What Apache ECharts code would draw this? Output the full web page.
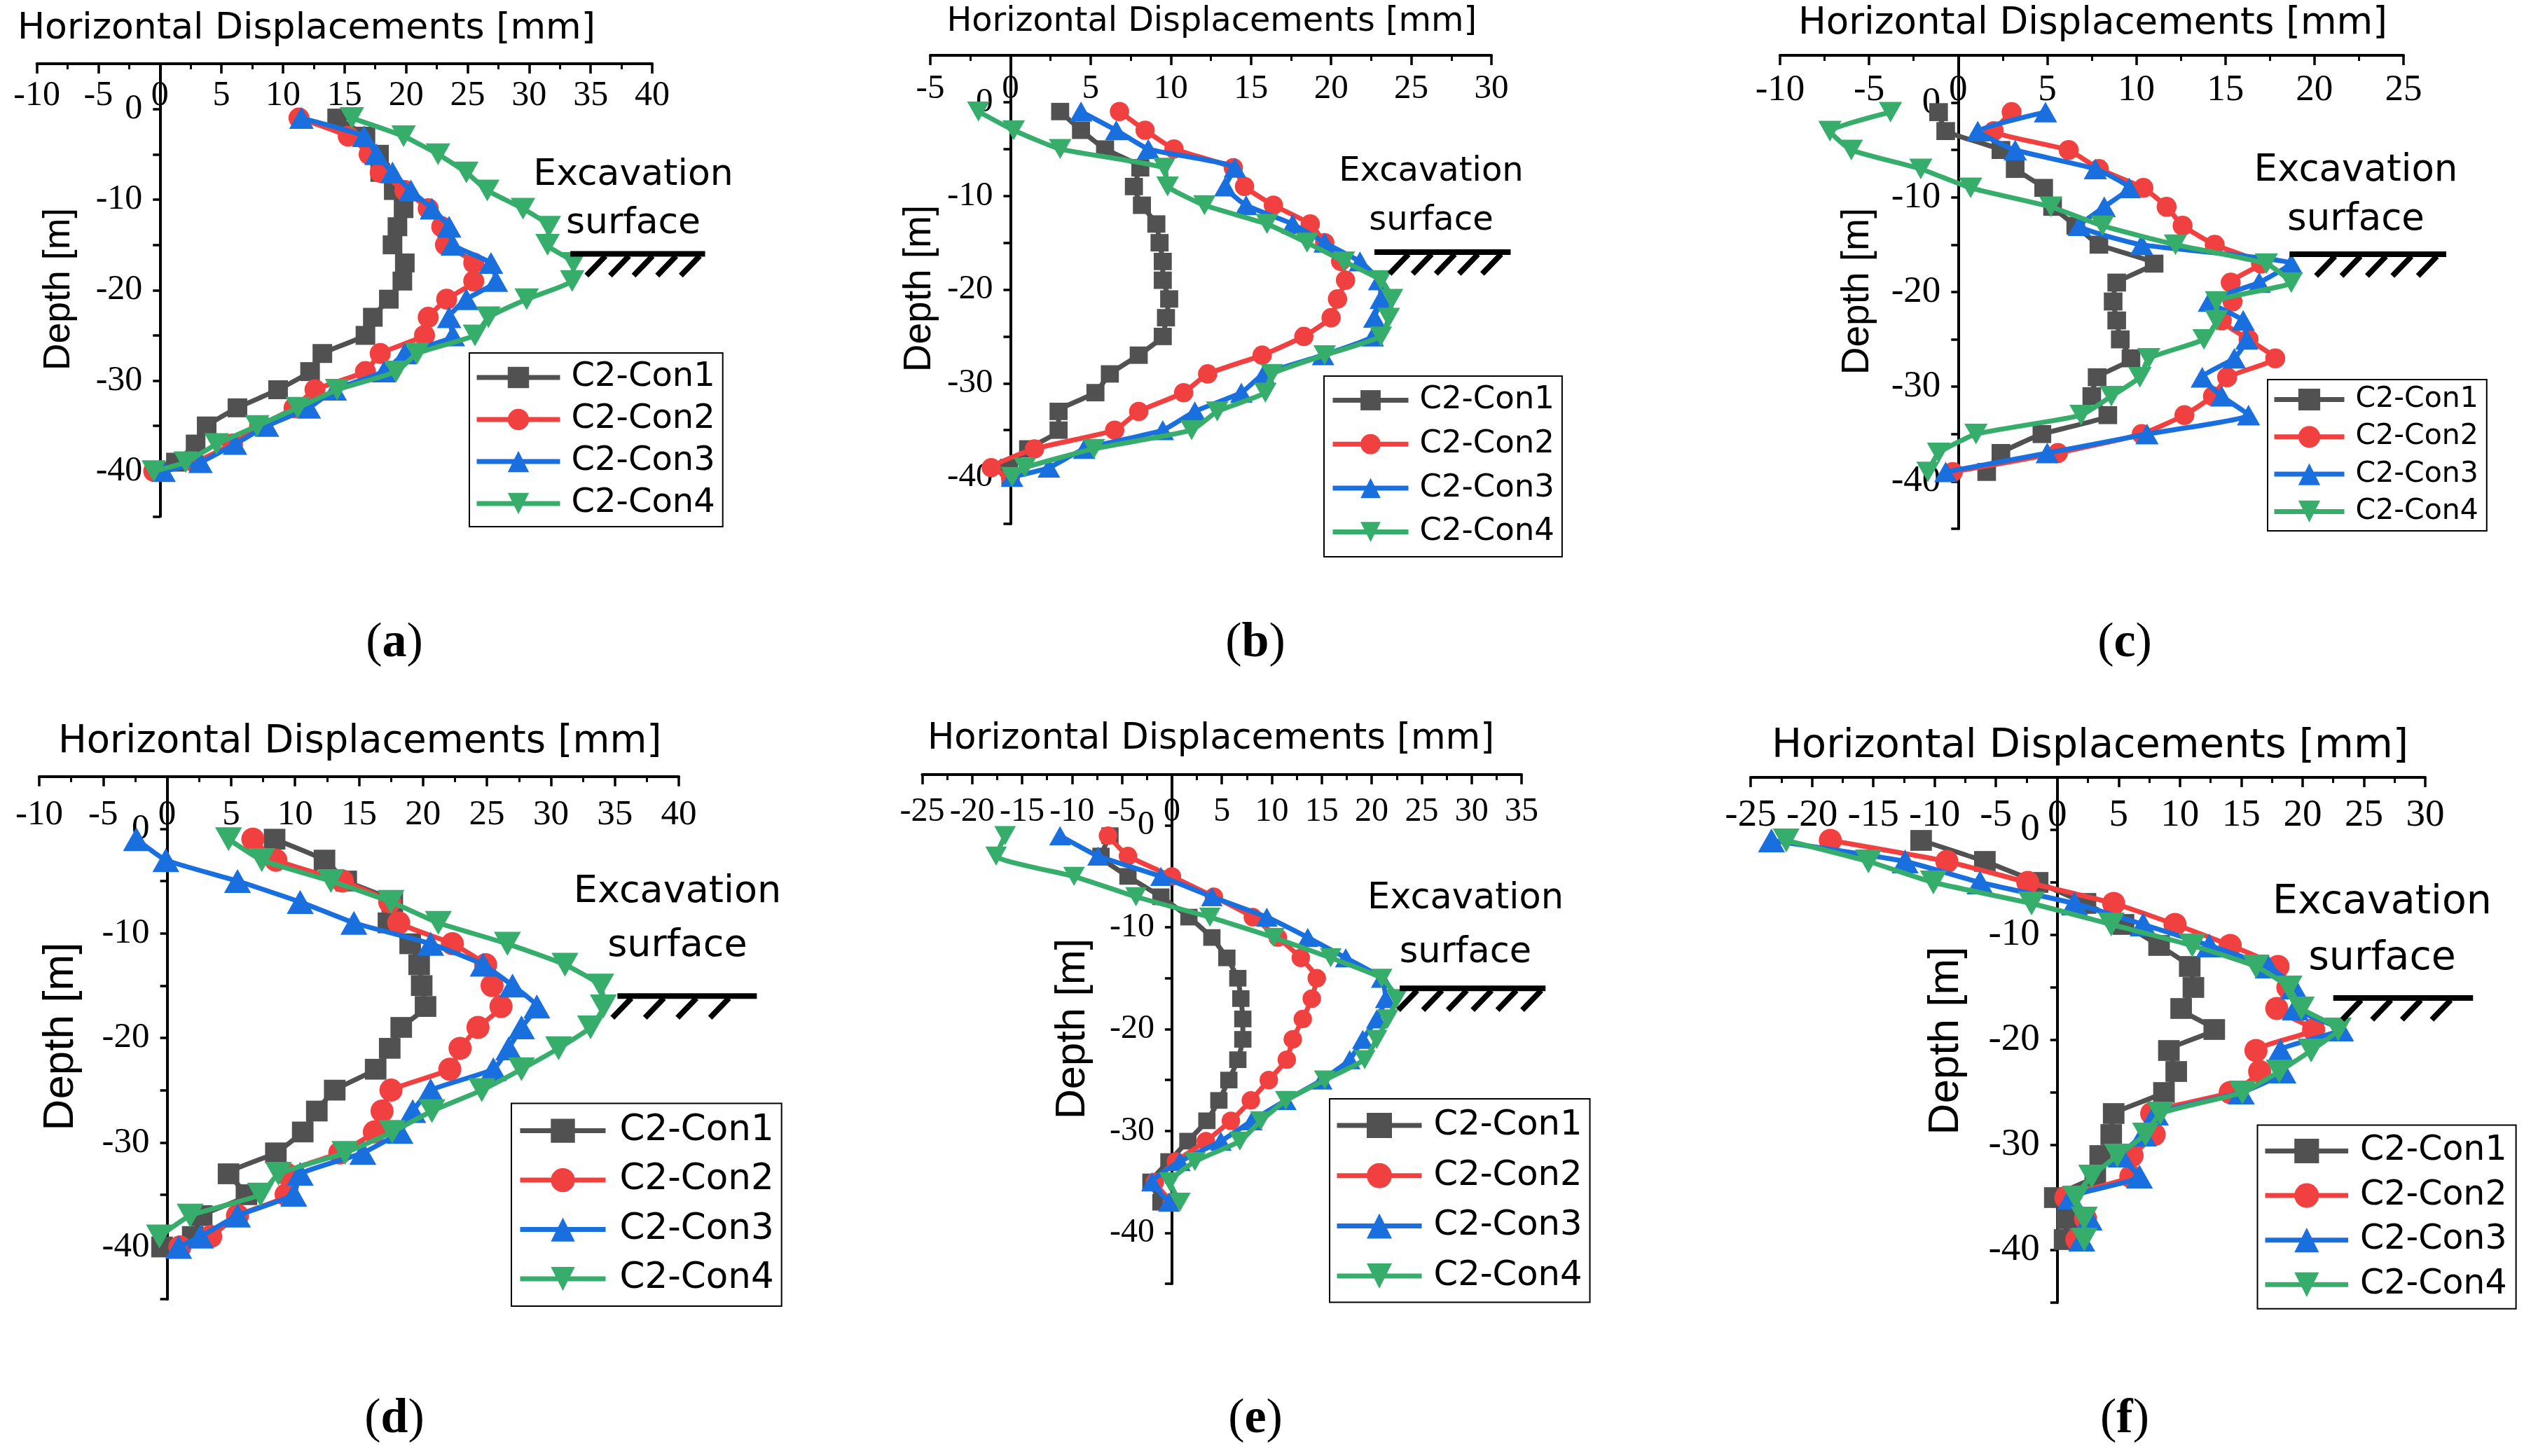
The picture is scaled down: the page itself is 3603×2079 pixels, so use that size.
<!DOCTYPE html>
<html><head><meta charset="utf-8">
<script src="https://cdn.jsdelivr.net/npm/echarts@6/dist/echarts.min.js"></script>
<style>html,body{margin:0;padding:0;background:#fff}#c{width:3603px;height:2079px}</style>
</head><body><div id="c"></div>
<script>
// ---------------- DATA ----------------
const seriesNames = ['C2-Con1', 'C2-Con2', 'C2-Con3', 'C2-Con4'];
const panelLabels = ['a', 'b', 'c', 'd', 'e', 'f'];
const titleText = 'Horizontal Displacements [mm]';
const yTitleText = 'Depth [m]';
const excavationText = ['Excavation', 'surface'];
const excavationDepth = -16;

// depth of measuring points [m]
const depthTo40 = [-1, -3, -5, -7, -9, -11, -13, -15, -17, -19, -21, -23, -25, -27, -29, -31, -33, -35, -37, -39, -40];
const depthTo39 = [-1, -3, -5, -7, -9, -11, -13, -15, -17, -19, -21, -23, -25, -27, -29, -31, -33, -35, -37, -39];
const depthTo37 = [-1, -3, -5, -7, -9, -11, -13, -15, -17, -19, -21, -23, -25, -27, -29, -31, -33, -35, -37];

// x axis ranges [mm]
const xRangeA = [-10, 40], xRangeB = [-5, 30], xRangeC = [-10, 25];
const xRangeD = [-10, 40], xRangeE = [-25, 35], xRangeF = [-25, 30];

// horizontal displacement values [mm]
const aCon1 = [14.4, 16.7, 17.8, 17.9, 19.0, 19.8, 19.3, 18.9, 19.9, 19.7, 18.6, 17.3, 16.7, 13.2, 12.2, 9.6, 6.3, 3.8, 2.9, 1.3, 0.0];
const aCon2 = [11.3, 15.3, 17.0, 17.9, 19.9, 21.8, 22.9, 23.2, 25.5, 25.5, 23.3, 21.8, 21.5, 17.9, 16.7, 12.6, 10.9, 8.1, 5.9, 2.8, -0.5];
const aCon3 = [11.5, 16.6, 17.6, 18.9, 20.4, 22.1, 23.5, 23.8, 26.9, 27.3, 24.9, 23.5, 23.8, 19.9, 18.2, 14.2, 12.1, 8.7, 6.1, 3.3, 0.3];
const aCon4 = [15.6, 19.8, 22.6, 24.9, 26.6, 29.5, 31.6, 31.5, 33.6, 33.5, 29.8, 26.7, 25.6, 20.9, 19.2, 14.4, 11.2, 7.9, 4.6, 2.1, -0.5];

const bCon1 = [3.1, 4.4, 5.9, 8.1, 7.7, 8.2, 9.1, 9.3, 9.5, 9.5, 9.9, 9.7, 9.5, 8.0, 6.2, 5.3, 3.0, 3.0, 1.1, -0.1, 0.0];
const bCon2 = [6.8, 8.4, 10.2, 13.9, 14.6, 16.4, 18.7, 19.6, 20.6, 20.9, 20.4, 20.0, 18.3, 15.7, 12.3, 10.8, 8.0, 6.5, 1.5, -1.2, 0.0];
const bCon3 = [4.4, 6.6, 8.6, 14.0, 13.4, 14.7, 17.6, 19.6, 21.8, 23.0, 23.1, 22.7, 22.6, 19.5, 15.8, 14.4, 11.5, 9.5, 4.6, 2.4, 0.1];
const bCon4 = [-2.0, 0.2, 3.1, 9.6, 9.8, 12.1, 16.0, 18.5, 20.8, 23.1, 23.8, 23.6, 23.1, 19.6, 16.3, 15.9, 12.9, 11.3, 5.2, 0.9, 0.1];

const cCon1 = [-1.1, -0.7, 2.4, 3.2, 4.8, 5.3, 6.6, 7.9, 11.0, 8.9, 8.7, 8.9, 9.1, 9.7, 7.8, 7.5, 8.4, 4.7, 2.4, 1.6];
const cCon2 = [3.0, 2.0, 6.2, 7.9, 10.4, 11.7, 12.6, 14.4, 17.0, 15.3, 15.4, 14.8, 16.3, 17.8, 15.1, 14.3, 12.7, 10.3, 5.6, -0.3];
const cCon3 = [4.9, 1.1, 3.2, 7.7, 9.6, 8.2, 6.8, 10.3, 18.7, 16.9, 14.1, 16.0, 16.2, 15.5, 13.7, 14.8, 16.3, 10.6, 5.0, -0.7];
const cCon4 = [-3.8, -7.2, -6.0, -2.1, 0.7, 5.2, 8.1, 12.2, 17.3, 18.7, 14.5, 14.5, 13.8, 10.7, 10.2, 8.6, 6.9, 1.0, -1.1, -1.7];

const dCon1 = [8.4, 12.3, 14.0, 17.6, 17.3, 19.0, 19.7, 19.9, 20.2, 18.3, 17.4, 16.3, 13.1, 11.7, 10.6, 8.5, 4.8, 6.2, 2.7, 2.0, -0.4];
const dCon2 = [6.7, 8.5, 13.7, 17.4, 18.1, 22.3, 24.9, 25.4, 26.1, 24.3, 22.9, 22.1, 17.5, 16.8, 16.2, 13.5, 9.3, 9.3, 5.5, 3.4, 1.0];
const dCon3 = [-2.4, -0.1, 5.5, 10.4, 14.6, 20.6, 24.7, 27.0, 28.9, 27.7, 26.7, 25.5, 20.6, 19.2, 18.2, 15.3, 10.4, 9.9, 5.5, 2.6, 0.9];
const dCon4 = [4.8, 7.4, 12.8, 17.5, 21.2, 26.6, 31.1, 33.9, 34.1, 33.1, 30.6, 27.7, 24.6, 20.7, 17.6, 13.9, 8.7, 7.3, 1.8, -0.6];

const eCon1 = [-6.2, -7.1, -4.4, -1.1, 1.7, 4.0, 5.5, 6.6, 6.9, 7.1, 7.1, 6.6, 5.7, 4.7, 3.5, 1.6, -0.3, -2.1, -1.1];
const eCon2 = [-6.4, -4.4, 0.0, 4.2, 8.1, 10.6, 12.9, 14.5, 14.0, 13.1, 12.1, 11.5, 9.7, 7.9, 5.9, 3.4, 0.4, -1.7, 0.0];
const eCon3 = [-11.2, -7.4, -1.1, 4.0, 9.5, 13.6, 17.4, 21.0, 21.4, 20.5, 19.1, 17.8, 15.0, 11.4, 8.0, 4.9, 0.8, -2.0, -0.3];
const eCon4 = [-16.7, -17.6, -9.8, -3.6, 3.8, 10.2, 15.9, 21.0, 22.5, 21.6, 20.5, 19.3, 15.3, 11.4, 8.9, 6.8, 2.3, -0.2, 0.8];

const fCon1 = [-11.1, -5.9, -1.6, 2.3, 5.4, 8.3, 10.8, 11.1, 10.1, 12.8, 9.1, 9.7, 8.7, 4.6, 4.4, 3.5, 3.1, -0.2, 0.8, 0.6];
const fCon2 = [-18.5, -9.0, -2.4, 4.6, 9.6, 14.1, 18.0, 18.8, 17.9, 20.9, 16.2, 16.5, 14.1, 7.7, 7.9, 6.1, 6.0, 0.7, 2.3, 1.6];
const fCon3 = [-23.3, -12.4, -6.3, 1.4, 7.0, 12.4, 17.2, 19.3, 19.4, 23.1, 18.2, 18.4, 15.0, 8.0, 7.0, 5.2, 6.7, 1.1, 2.6, 2.0];
const fCon4 = [-22.1, -15.4, -10.1, -2.1, 4.4, 11.0, 16.2, 18.9, 19.9, 22.9, 20.7, 18.1, 15.1, 8.4, 7.2, 4.9, 2.8, 1.5, 2.2, 2.2];

// excavation-surface annotation extent along x [mm]
const hatchXA = [33.35, 44.3], hatchXB = [22.7, 31.2], hatchXC = [18.6, 27.4];
const hatchXD = [35.2, 46.1], hatchXE = [22.8, 37.4], hatchXF = [22.5, 33.9];

// ---------------- STRUCTURE ----------------
const panelData = [
  { xr: xRangeA, vals: [aCon1, aCon2, aCon3, aCon4], dep: [depthTo40, depthTo40, depthTo40, depthTo40], hx: hatchXA },
  { xr: xRangeB, vals: [bCon1, bCon2, bCon3, bCon4], dep: [depthTo40, depthTo40, depthTo40, depthTo40], hx: hatchXB },
  { xr: xRangeC, vals: [cCon1, cCon2, cCon3, cCon4], dep: [depthTo39, depthTo39, depthTo39, depthTo39], hx: hatchXC },
  { xr: xRangeD, vals: [dCon1, dCon2, dCon3, dCon4], dep: [depthTo40, depthTo40, depthTo40, depthTo39], hx: hatchXD },
  { xr: xRangeE, vals: [eCon1, eCon2, eCon3, eCon4], dep: [depthTo37, depthTo37, depthTo37, depthTo37], hx: hatchXE },
  { xr: xRangeF, vals: [fCon1, fCon2, fCon3, fCon4], dep: [depthTo39, depthTo39, depthTo39, depthTo39], hx: hatchXF }
];

// ---------------- LAYOUT / STYLE ----------------
const colors = ['#515151', '#F14040', '#1A6FDF', '#37AD6B'];
const symbols = ['rect', 'circle', 'triangle', 'path://M0,0L10,0L5,10Z'];
const baseSizes = [[28, 27], 30, [35, 31], [35, 31]];
const LINE_W = 7;
const SANS = 'DejaVu Sans', ARIAL = 'Liberation Sans', SERIF = 'Liberation Serif';

const layouts = [
  { grid: [52.6, 91, 878.4, 646.5], tickFont: 50, lblMargin: 21, sym: 1.0,
    title: { x: 25, y: 41, fs: 52 }, depth: { x: 84, y: 413, fs: 53.6 },
    exc: { x: 904, y1: 250, y2: 319, fs: 52 }, label: { x: 563, y: 919 },
    leg: { left: 670, top: 504, pad: [11, 11, 9, 7], w: 119, h: 38, gap: 12, fs: 48, tp: 11 },
    hatch: { n: 5, f0: 0.26, f1: 0.96 } },
  { grid: [1328, 79, 801, 669], tickFont: 49, lblMargin: 24, sym: 0.92,
    title: { x: 1351.5, y: 32, fs: 47.7 }, depth: { x: 1313, y: 412, fs: 55 },
    exc: { x: 2043, y1: 246, y2: 316, fs: 48 }, label: { x: 1792, y: 919 },
    leg: { left: 1890, top: 537, pad: [12, 11, 13, 9], w: 108, h: 36, gap: 17.7, fs: 45, tp: 11 },
    hatch: { n: 5, f0: 0.25, f1: 0.93 } },
  { grid: [2541, 79, 890, 676], tickFont: 53, lblMargin: 24, sym: 0.95,
    title: { x: 2567, y: 34.5, fs: 53 }, depth: { x: 2652, y: 416, fs: 55 },
    exc: { x: 3363, y1: 244, y2: 314, fs: 53 }, label: { x: 3033, y: 919 },
    leg: { left: 3237, top: 542, pad: [8, 12, 7, 6], w: 100, h: 39, gap: 12.3, fs: 41, tp: 11 },
    hatch: { n: 5, f0: 0.29, f1: 0.94 } },
  { grid: [56, 1108.7, 913, 746.5], tickFont: 51, lblMargin: 29, sym: 1.1,
    title: { x: 83, y: 1060, fs: 54.3 }, depth: { x: 86.5, y: 1480, fs: 62 },
    exc: { x: 967, y1: 1274, y2: 1351, fs: 54 }, label: { x: 563, y: 2027 },
    leg: { left: 730, top: 1575.6, pad: [13, 11, 13, 9], w: 122, h: 43, gap: 18.5, fs: 51.5, tp: 15 },
    hatch: { n: 4, f0: 0.10, f1: 0.80 } },
  { grid: [1316.4, 1106, 855.6, 727], tickFont: 48, lblMargin: 29, sym: 0.88,
    title: { x: 1324, y: 1056, fs: 51 }, depth: { x: 1532, y: 1469, fs: 59.6 },
    exc: { x: 2092, y1: 1284, y2: 1361, fs: 51 }, label: { x: 1792, y: 2027 },
    leg: { left: 1898, top: 1569, pad: [13, 11, 12.5, 7], w: 121, h: 45, gap: 21.7, fs: 49.6, tp: 12 },
    hatch: { n: 6, f0: 0.12, f1: 0.97 } },
  { grid: [2499, 1110, 963, 750], tickFont: 55, lblMargin: 27, sym: 1.1,
    title: { x: 2529, y: 1066, fs: 57.3 }, depth: { x: 2777.5, y: 1486, fs: 62 },
    exc: { x: 3400.5, y1: 1289, y2: 1369, fs: 57 }, label: { x: 3033, y: 2027 },
    leg: { left: 3222.5, top: 1606.5, pad: [12.5, 13, 10, 7.5], w: 118.6, h: 44, gap: 14.6, fs: 49, tp: 12 },
    hatch: { n: 4, f0: 0.2, f1: 0.84 } }
];

function scaleSize(s, k) { return Array.isArray(s) ? [s[0] * k, s[1] * k] : s * k; }

const option = {
  animation: false,
  backgroundColor: '#ffffff',
  grid: [], xAxis: [], yAxis: [], series: [], legend: []
};

panelData.forEach((p, i) => {
  const L = layouts[i];
  option.grid.push({ left: L.grid[0], top: L.grid[1], width: L.grid[2], height: L.grid[3],
    containLabel: false, outerBoundsMode: 'none' });
  option.xAxis.push({
    gridIndex: i, type: 'value', position: 'top', min: p.xr[0], max: p.xr[1], interval: 5,
    axisLine: { onZero: false, lineStyle: { color: '#000', width: 4 } },
    axisTick: { inside: true, length: 14, lineStyle: { color: '#000', width: 3.5 } },
    minorTick: { show: true, splitNumber: 2, length: 8, lineStyle: { color: '#000', width: 3 } },
    axisLabel: { inside: true, margin: L.lblMargin, fontFamily: SERIF, fontSize: L.tickFont, color: '#000', hideOverlap: false },
    splitLine: { show: false }, minorSplitLine: { show: false }
  });
  // place the depth axis on x = 0 by shifting it from the grid's left edge
  const zeroShift = L.grid[2] * (0 - p.xr[0]) / (p.xr[1] - p.xr[0]);
  option.yAxis.push({
    gridIndex: i, type: 'value', min: -45, max: 5, interval: 5, position: 'left', offset: -zeroShift,
    axisLine: { onZero: false, lineStyle: { color: '#000', width: 4 } },
    axisTick: { inside: false, length: 10, lineStyle: { color: '#000', width: 3.5 } },
    axisLabel: { margin: 25, fontFamily: SERIF, fontSize: L.tickFont, color: '#000',
      formatter: v => (v <= 0 && v % 10 === 0) ? String(v) : '' },
    splitLine: { show: false }
  });
  p.vals.forEach((vals, k) => {
    const dep = p.dep[k];
    option.series.push({
      type: 'line', name: seriesNames[k], xAxisIndex: i, yAxisIndex: i,
      data: vals.map((v, j) => [v, dep[j]]),
      symbol: symbols[k], symbolSize: scaleSize(baseSizes[k], L.sym),
      smooth: 0.15, z: 2 + k,
      lineStyle: { width: LINE_W, color: colors[k] },
      itemStyle: { color: colors[k], borderWidth: 0 },
      emphasis: { disabled: true }, silent: true
    });
  });
  option.legend.push({
    orient: 'vertical', left: L.leg.left, top: L.leg.top, padding: L.leg.pad,
    itemWidth: L.leg.w, itemHeight: L.leg.h, itemGap: L.leg.gap,
    borderColor: '#000', borderWidth: 2, backgroundColor: '#fff',
    selectedMode: false, data: seriesNames,
    lineStyle: { width: LINE_W },
    textStyle: { fontFamily: SANS, fontSize: L.leg.fs, color: '#000', padding: [0, 0, 0, L.leg.tp] }
  });
});

const chart = echarts.init(document.getElementById('c'), null, { renderer: 'canvas' });
chart.setOption(option);

// ---------------- ANNOTATIONS (text + excavation hatch) ----------------
const graphics = [];
panelData.forEach((p, i) => {
  const L = layouts[i];
  graphics.push({ type: 'text', x: L.title.x, y: L.title.y, silent: true,
    style: { text: titleText, fontFamily: SANS, fontSize: L.title.fs, fill: '#000', textAlign: 'left', textVerticalAlign: 'middle' } });
  graphics.push({ type: 'text', x: L.depth.x, y: L.depth.y, rotation: Math.PI / 2, silent: true,
    style: { text: yTitleText, fontFamily: ARIAL, fontSize: L.depth.fs, fill: '#000', textAlign: 'center', textVerticalAlign: 'middle' } });
  graphics.push({ type: 'text', x: L.exc.x, y: L.exc.y1, silent: true,
    style: { text: excavationText[0], fontFamily: SANS, fontSize: L.exc.fs, fill: '#000', textAlign: 'center', textVerticalAlign: 'middle' } });
  graphics.push({ type: 'text', x: L.exc.x, y: L.exc.y2, silent: true,
    style: { text: excavationText[1], fontFamily: SANS, fontSize: L.exc.fs, fill: '#000', textAlign: 'center', textVerticalAlign: 'middle' } });
  graphics.push({ type: 'text', x: L.label.x, y: L.label.y, silent: true,
    style: { text: '{n|(}{b|' + panelLabels[i] + '}{n|)}', textAlign: 'center', textVerticalAlign: 'middle',
      rich: { n: { fontFamily: SERIF, fontSize: 70, fill: '#000' }, b: { fontFamily: SERIF, fontSize: 70, fontWeight: 'bold', fill: '#000' } } } });
  // hatch for excavation surface
  const p0 = chart.convertToPixel({ gridIndex: i }, [p.hx[0], excavationDepth]);
  const p1 = chart.convertToPixel({ gridIndex: i }, [p.hx[1], excavationDepth]);
  graphics.push({ type: 'line', silent: true, z: 50,
    shape: { x1: p0[0], y1: p0[1], x2: p1[0], y2: p1[1] }, style: { stroke: '#000', lineWidth: 8 } });
  const len = p1[0] - p0[0];
  const n = L.hatch.n;
  for (let s = 0; s < n; s++) {
    const tx = p0[0] + len * (L.hatch.f0 + (L.hatch.f1 - L.hatch.f0) * s / (n - 1));
    graphics.push({ type: 'line', silent: true, z: 50,
      shape: { x1: tx, y1: p0[1] + 3, x2: tx - 27, y2: p0[1] + 31 }, style: { stroke: '#000', lineWidth: 8 } });
  }
});
chart.setOption({ graphic: graphics });
</script>
</body></html>
